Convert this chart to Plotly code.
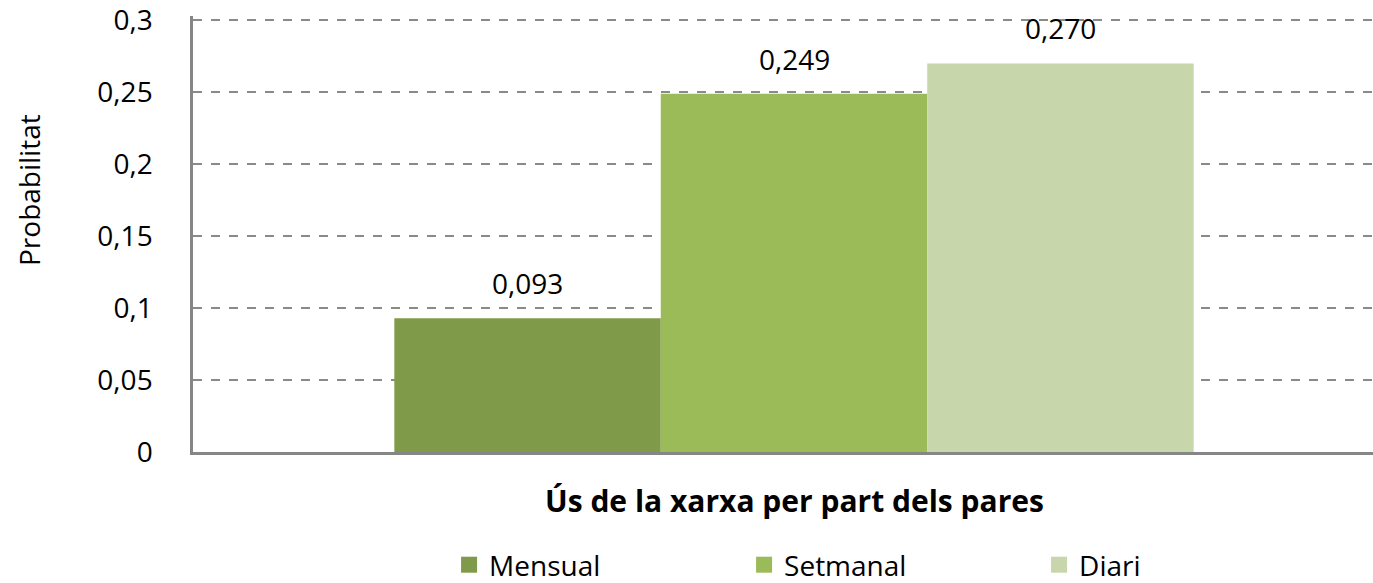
import plotly.graph_objects as go

categories = ["Mensual", "Setmanal", "Diari"]
values = [0.093, 0.249, 0.270]
colors = ["#7F9A48", "#9BBB59", "#C7D6AB"]
group_x = [0]

x_title = "Ús de la xarxa per part dels pares"
y_title = "Probabilitat"

FONT = "Open Sans"
BARGAP = 0.335

fig = go.Figure()
for name, v, c in zip(categories, values, colors):
    fig.add_trace(go.Bar(
        x=group_x, y=[v], name=name, marker=dict(color=c, line=dict(width=0)),
        showlegend=False,
    ))
    fig.add_trace(go.Scatter(
        x=[None], y=[None], mode="markers", name=name,
        marker=dict(symbol="square", size=22, color=c),
        showlegend=True,
    ))

W, H = 1373, 583
L, R, T, B = 193, 0, 16, 131
Y_MAX = 0.303
plot_w = W - L - R
plot_h = H - T - B
unit_px = 1202.0
zero_px = H - B  # pixel row of y = 0

bar_w = (1 - BARGAP) / len(categories)
label_annotations = [
    dict(x=group_x[0] + (i - (len(categories) - 1) / 2) * bar_w, y=v, xref="x", yref="y",
         text=f"{v:.3f}".replace(".", ","), showarrow=False, yanchor="middle", yshift=35,
         font=dict(family=FONT, size=28, color="#000000"))
    for i, v in enumerate(values)
]

fig.update_layout(
    width=W, height=H,
    margin=dict(l=L, r=R, t=T, b=B, pad=0, autoexpand=False),
    paper_bgcolor="white", plot_bgcolor="white",
    separators=",.",
    barmode="group", bargap=BARGAP, bargroupgap=0,
    font=dict(family=FONT, size=24, color="#000000"),
    xaxis=dict(
        range=[-0.5, -0.5 + plot_w / unit_px], showticklabels=False, showgrid=False,
        zeroline=False, showline=True, linecolor="#868686", linewidth=2.5,
        fixedrange=True,
    ),
    yaxis=dict(
        range=[0, Y_MAX], dtick=0.05, tick0=0, showgrid=True, gridcolor="#8A8A8A",
        griddash="dash", gridwidth=1.5, zeroline=False, showline=True,
        linecolor="#868686", linewidth=2.5, ticks="", ticklabelstandoff=32,
        tickfont=dict(family=FONT, size=28, color="#000000"),
        fixedrange=True,
    ),
    showlegend=True,
    legend=dict(
        orientation="h", x=0.217, xanchor="left", y=(zero_px - 565) / plot_h, yanchor="middle",
        font=dict(family=FONT, size=28, color="#000000"),
        entrywidth=250, entrywidthmode="pixels", itemsizing="trace",
        bgcolor="rgba(0,0,0,0)",
    ),
    annotations=label_annotations + [
        dict(text=y_title, textangle=-90, xref="paper", yref="paper",
             x=(29 - L) / plot_w, y=(zero_px - 190) / plot_h, xanchor="center", yanchor="middle",
             showarrow=False, font=dict(family=FONT, size=28, color="#000000")),
        dict(text="<b>" + x_title + "</b>", xref="paper", yref="paper",
             x=(795 - L) / plot_w, y=(zero_px - 500) / plot_h, xanchor="center", yanchor="middle",
             showarrow=False, font=dict(family=FONT, size=30, color="#000000")),
    ],
)

fig.write_html(
    "out.html",
    config={"displayModeBar": False},
    post_script="document.body.style.margin='0';document.body.style.overflow='hidden';",
)
